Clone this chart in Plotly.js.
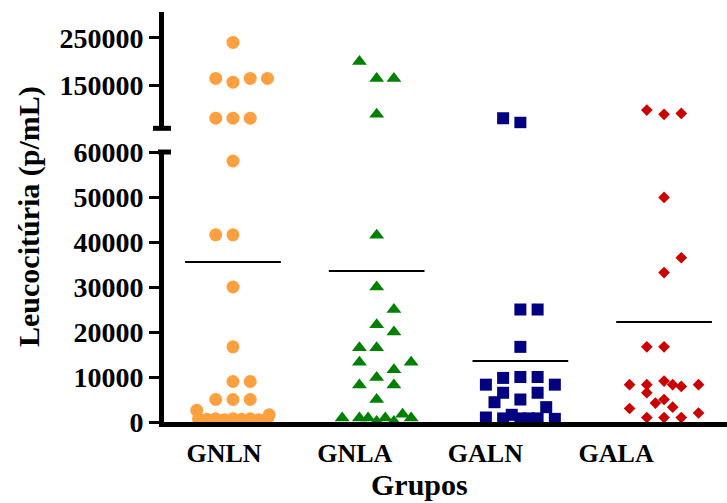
<!DOCTYPE html>
<html><head><meta charset="utf-8">
<script src="https://cdn.plot.ly/plotly-3.0.1.min.js"></script>
<style>html,body{margin:0;padding:0;background:#fff}#chart{width:727px;height:503px}</style>
</head><body><div id="chart"></div>
<script>
// ---- data ----
const categories = ['GNLN', 'GNLA', 'GALN', 'GALA'];

const gnlnValues = [240000, 164000, 156000, 164000, 164000, 80000, 80000, 80000,
  58000, 41600, 41600, 30000, 16700, 9000, 9000, 5000, 5000, 5000,
  2600, 700, 600, 700, 500, 700, 600, 700, 500, 700, 1600];
const gnlnSlots = [0, -1, 0, 1, 2, -1, 0, 1,
  0, -1, 0, 0, 0, 0, 1, -1, 0, 1,
  -2.1, -2, -1.5, -1, -0.5, 0, 0.5, 1, 1.5, 2, 2.1];

const gnlaValues = [200000, 164000, 164000, 88000,
  41500, 30000, 25000, 21600, 20000, 16500, 16500, 13300, 13300, 11600, 9900, 8200, 8200, 5000,
  900, 900, 900, 100, 900, 100, 1700, 900];
const gnlaSlots = [-1, 0, 1, 0,
  0, 0, 1, 0, 1, -1, 0, -1, 2, 1, 0, -1, 1, 0,
  -2, -1, -0.5, 0, 0.5, 1, 1.5, 2];

const galnValues = [79600, 70300,
  25000, 25000, 16700, 9800, 6500, 10000, 10000, 8300, 8300, 6500, 5000, 4400, 3300,
  1000, 800, 1600, 800, 800, 800, 700];
const galnSlots = [-1, 0,
  0, 1, 0, -1, -1, 0, 1, -2, 2, 1, 0, -1.5, 1.5,
  -2, -1, -0.5, 0, 0.5, 1, 2];

const galaValues = [97000, 88000, 90000,
  49900, 36500, 33200, 16700, 16700, 8300, 8300, 9100, 8300, 7900, 8300,
  6500, 5000, 4200, 3300, 3000, 2000, 1000, 1000, 1000];
const galaSlots = [-1, 0, 1,
  0, 1, 0, -1, 0, -2, -1, 0, 0.5, 1, 2,
  -1, 0, -0.5, 0.5, -2, 2, -1, 0, 1];

const means = [35560, 33560, 13560, 22220];

const breakValue = 60000;          // axis break between the two segments
const lowerTicks = [0, 10000, 20000, 30000, 40000, 50000, 60000];
const upperTicks = [150000, 250000];

// ---- styling ----
const groups = [
  {values: gnlnValues, slots: gnlnSlots, symbol: 'circle', color: '#FFA040', size: 13},
  {values: gnlaValues, slots: gnlaSlots, symbol: 'triangle-up', color: '#008000', size: 13},
  {values: galnValues, slots: galnSlots, symbol: 'square', color: '#000080', size: 12},
  {values: galaValues, slots: galaSlots, symbol: 'diamond', color: '#CC0000', size: 9}
];
const slotWidth = 0.12;
const meanHalf = 0.333;

const traces = [];
groups.forEach((g, i) => {
  const lx = [], ly = [], ux = [], uy = [];
  g.values.forEach((v, k) => {
    const x = i + g.slots[k] * slotWidth;
    if (v > breakValue) { ux.push(x); uy.push(v); } else { lx.push(x); ly.push(v); }
  });
  const m = {symbol: g.symbol, color: g.color, size: g.size, line: {width: 0}};
  traces.push({type: 'scatter', mode: 'markers', x: lx, y: ly, xaxis: 'x', yaxis: 'y', marker: m, hoverinfo: 'skip'});
  traces.push({type: 'scatter', mode: 'markers', x: ux, y: uy, xaxis: 'x', yaxis: 'y2', marker: m, hoverinfo: 'skip'});
});
const mx = [], my = [];
means.forEach((m, i) => { mx.push(i - meanHalf, i + meanHalf, null); my.push(m, m, null); });
traces.push({type: 'scatter', mode: 'lines', x: mx, y: my, xaxis: 'x', yaxis: 'y',
  line: {color: '#000', width: 2.2}, hoverinfo: 'skip'});
// carrier for category labels
traces.push({type: 'scatter', mode: 'markers', x: categories, y: categories.map(() => 0),
  xaxis: 'x2', yaxis: 'y', marker: {opacity: 0}, hoverinfo: 'skip'});

const L = 164, R = 0, T = 12, B = 81;
const W = 727 - L - R;
const serif = '"Liberation Serif", "Times New Roman", Times, serif';

const yCommon = {
  showgrid: false, zeroline: false, showline: true, linecolor: '#000', linewidth: 5,
  ticks: 'outside', ticklen: 10, tickwidth: 3, tickcolor: '#000', tickformat: 'd',
  tickfont: {family: serif, size: 28, weight: 'bold', color: '#000'}, anchor: 'x', fixedrange: true
};

const layout = {
  width: 727, height: 503,
  margin: {l: L, r: R, t: T, b: B, pad: 0},
  paper_bgcolor: '#fff', plot_bgcolor: '#fff',
  showlegend: false,
  font: {family: serif, color: '#000'},
  xaxis: {domain: [0, 1], range: [-0.48, 3.438], showticklabels: false, ticks: '',
    showgrid: false, zeroline: false, showline: true, linecolor: '#000', linewidth: 5,
    anchor: 'y', fixedrange: true},
  xaxis2: {overlaying: 'x', anchor: 'y', side: 'bottom', type: 'category',
    range: [-0.459, 3.848], showgrid: false, zeroline: false, showline: false, ticks: '',
    tickfont: {family: serif, size: 26, weight: 'bold', color: '#000'},
    ticklabelstandoff: 13, fixedrange: true},
  yaxis: Object.assign({}, yCommon, {domain: [0, 0.6585], range: [0, 60000], tickvals: lowerTicks}),
  yaxis2: Object.assign({}, yCommon, {domain: [0.7163, 1], range: [58500, 304400], tickvals: upperTicks}),
  shapes: [
    {type: 'line', xref: 'paper', yref: 'y2 domain', x0: (153 - L) / W, x1: (171 - L) / W, y0: 0, y1: 0,
      line: {color: '#000', width: 5}},
    {type: 'line', xref: 'paper', yref: 'y domain', x0: (158 - L) / W, x1: (171 - L) / W, y0: 1, y1: 1,
      line: {color: '#000', width: 5}}
  ],
  annotations: [
    {text: 'Leucocitúria (p/mL)', xref: 'paper', yref: 'paper', x: 0, y: 0.5, xshift: 29 - L,
      textangle: -90, showarrow: false, xanchor: 'center', yanchor: 'middle',
      font: {family: serif, size: 30, weight: 'bold', color: '#000'}},
    {text: 'Grupos', xref: 'paper', yref: 'paper', x: (419 - L) / W, y: 0, yshift: -62,
      showarrow: false, xanchor: 'center', yanchor: 'middle',
      font: {family: serif, size: 30, weight: 'bold', color: '#000'}}
  ]
};

Plotly.newPlot('chart', traces, layout, {displayModeBar: false, staticPlot: true});
</script>
</body></html>
